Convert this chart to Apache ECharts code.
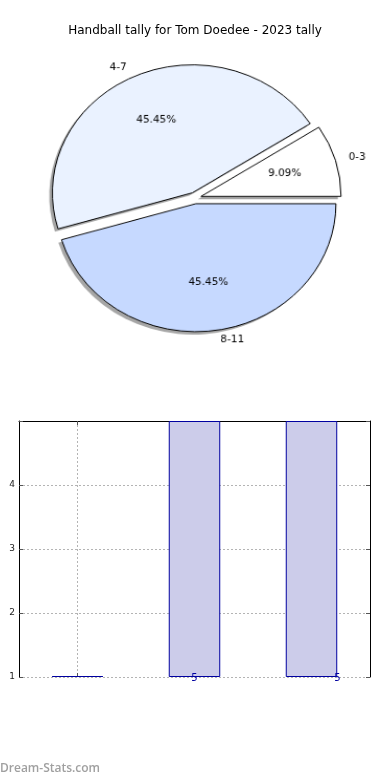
<!DOCTYPE html>
<html><head><meta charset="utf-8">
<script src="https://cdn.jsdelivr.net/npm/echarts@6/dist/echarts.min.js"></script>
<style>
html,body{margin:0;padding:0;background:#fff}
#wrap{position:relative;width:390px;height:780px}
#c{position:absolute;left:0;top:0;width:390px;height:780px}
#p{position:absolute;left:0;top:0;width:390px;height:400px;transform-origin:195px 198px;transform:scale(1.045,0.955)}
</style>
</head><body><div id="wrap"><div id="c"></div><div id="p"></div></div>
<script>
var title = 'Handball tally for Tom Doedee - 2023 tally';
var categories = ['0-3', '4-7', '8-11'];
var values = [1, 5, 5];
var pieColors = ['#ffffff', '#eaf2ff', '#c6d9ff'];
var yTicks = [1, 2, 3, 4, 5];
var yAxisName = 'Stat intervals';
var watermark = 'Dream-Stats.com';

var total = values.reduce(function (a, b) { return a + b; }, 0);
var yMin = yTicks[0], yMax = yTicks[yTicks.length - 1];
var font = 'DejaVu Sans';
var pieCenter = [195, 198];
var R = 134;
var OFF = 6;
var gridDot = { color: '#b4b4b4', type: [2, 2], width: 1 };
var tickStyle = { show: true, inside: true, length: 4, lineStyle: { color: '#555', width: 1 } };

function pieData(style) {
  return categories.map(function (c, i) {
    var st = style === 'fill' ? { color: pieColors[i] } :
             style === 'shadow' ? { color: 'rgba(77,77,77,0.5)', borderWidth: 0 } :
             { color: 'rgba(0,0,0,0)', borderWidth: 0 };
    return { name: c, value: values[i], selected: true, itemStyle: st };
  });
}

var main = echarts.init(document.getElementById('c'), null, { renderer: 'canvas' });
main.setOption({
  animation: false,
  backgroundColor: '#fff',
  title: { text: title, left: 'center', top: 20, textStyle: { fontFamily: font, fontSize: 12, fontWeight: 'normal', color: '#000' } },
  graphic: [{ type: 'text', left: 0, top: 763, style: { text: watermark, font: '600 12px "Open Sans"', fill: '#a0a0a0' } }],
  grid: { left: 19, right: 20, top: 421, height: 256, containLabel: false, outerBoundsMode: 'none' },
  xAxis: [
    { type: 'category', data: categories, boundaryGap: true, position: 'bottom',
      axisLine: { show: false }, axisTick: Object.assign({ alignWithLabel: true }, tickStyle), axisLabel: { show: false },
      splitLine: { show: true, alignWithLabel: true, lineStyle: gridDot } },
    { type: 'category', data: categories, position: 'top',
      axisLine: { show: true, lineStyle: { color: '#000', width: 1 } }, axisTick: Object.assign({ alignWithLabel: true }, tickStyle),
      axisLabel: { show: false }, splitLine: { show: false } }
  ],
  yAxis: [
    { type: 'value', min: yMin, max: yMax, interval: 1,
      name: yAxisName, nameLocation: 'middle', nameGap: 9, nameRotate: 90,
      nameTextStyle: { fontFamily: font, fontSize: 10, color: '#000' },
      axisLine: { show: true, lineStyle: { color: '#000', width: 1 } },
      axisTick: tickStyle,
      axisLabel: { fontFamily: font, fontSize: 9, color: '#222', margin: 4,
        formatter: function (v) { return v === yMax ? '' : String(v); } },
      splitLine: { show: true, lineStyle: gridDot } },
    { type: 'value', min: yMin, max: yMax, interval: 1, position: 'right',
      axisLine: { show: true, lineStyle: { color: '#000', width: 1 } }, axisTick: tickStyle,
      axisLabel: { show: false }, splitLine: { show: false } }
  ],
  series: [
    { type: 'bar', xAxisIndex: 0, yAxisIndex: 0, barWidth: '44%', stack: 'b', silent: true,
      itemStyle: { color: 'rgba(0,0,0,0)', borderWidth: 0 }, label: { show: false },
      data: values.map(function () { return yMin; }) },
    { type: 'bar', xAxisIndex: 0, yAxisIndex: 0, barWidth: '44%', stack: 'b', barMinHeight: 1, clip: false,
      itemStyle: { color: '#ccccea', borderColor: '#0000a0', borderWidth: 1 },
      label: { show: true, position: 'insideBottom', distance: 0, offset: [0, 6], fontFamily: font, fontSize: 10, color: '#0000a0',
        formatter: function (p) { return String(values[p.dataIndex]); } },
      data: values.map(function (v, i) {
        var lab = i === 0 ? { show: false } : (i === 2 ? { offset: [26, 6] } : {});
        return { value: v - yMin, label: lab };
      }) }
  ]
});

var pie = echarts.init(document.getElementById('p'), null, { renderer: 'canvas' });
var common = { type: 'pie', radius: R, startAngle: 0, clockwise: false,
  selectedMode: 'multiple', selectedOffset: OFF, avoidLabelOverlap: false, emphasis: { disabled: true } };
pie.setOption({
  animation: false,
  series: [
    Object.assign({}, common, { center: [pieCenter[0] - 3, pieCenter[1] + 3], silent: true,
      label: { show: false }, labelLine: { show: false }, data: pieData('shadow') }),
    Object.assign({}, common, { center: pieCenter,
      itemStyle: { borderColor: '#000', borderWidth: 1 },
      label: { show: true, position: 'outside', fontFamily: font, fontSize: 10, color: '#000', distanceToLabelLine: 3, formatter: '{b}' },
      labelLine: { show: false, length: 10, length2: 0 },
      data: pieData('fill') }),
    Object.assign({}, common, { center: pieCenter, radius: R * 1.2, silent: true,
      label: { show: true, position: 'inside', fontFamily: font, fontSize: 10, color: '#000',
        formatter: function (p) { return (p.value / total * 100).toFixed(2) + '%'; } },
      labelLine: { show: false }, data: pieData('none') })
  ]
});
</script></body></html>
